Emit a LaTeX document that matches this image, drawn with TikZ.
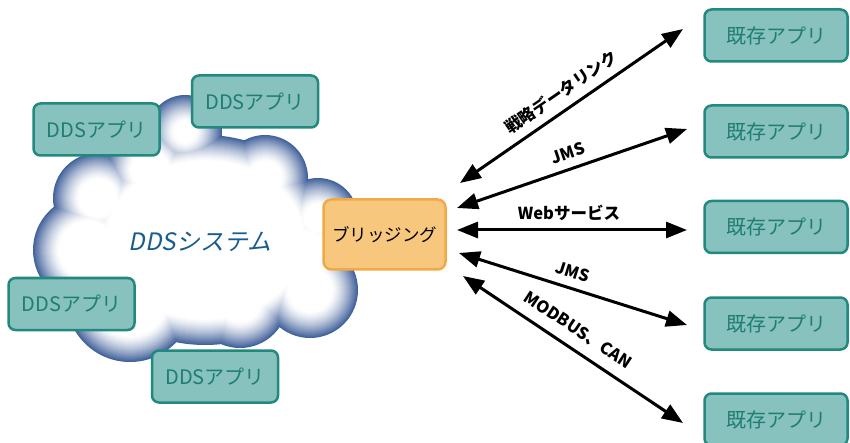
\documentclass[tikz,border=0pt]{standalone}
\usepackage{fontspec}
\usetikzlibrary{arrows.meta}
\newfontfamily\cjk{Noto Sans CJK JP}
\newfontfamily\cjkit{Noto Sans CJK JP}[FakeSlant=0.2]
\definecolor{tealfill}{HTML}{88C2BE}
\definecolor{tealborder}{HTML}{22897F}
\definecolor{tealtext}{HTML}{1F7D74}
\definecolor{bridgefill}{HTML}{F8C77E}
\definecolor{bridgeborder}{HTML}{F2A945}
\definecolor{cloudblue}{HTML}{42629C}
\definecolor{ddstext}{HTML}{1A5C8E}
\tikzset{
  appbox/.style={rounded corners=7pt, draw=tealborder, fill=tealfill, line width=2.5pt,
    text=tealtext, inner sep=0pt},
  ddsapp/.style={appbox, minimum width=126pt, minimum height=52pt, font=\cjk\fontsize{20}{24}\selectfont},
  oldapp/.style={appbox, minimum width=143pt, minimum height=52pt, font=\cjk\fontsize{20}{24}\selectfont},
  bridgebox/.style={rounded corners=8pt, draw=bridgeborder, fill=bridgefill, line width=2.5pt,
    minimum width=122pt, minimum height=70pt, inner sep=0pt, font=\cjk\fontsize{17.5}{20}\selectfont},
  link/.style={line width=3pt, {Triangle[length=21pt,width=16pt]}-{Triangle[length=21pt,width=16pt]}},
  lbl/.style={font=\cjk\bfseries\fontsize{16.5}{19}\selectfont, inner sep=0pt}
}
\begin{document}
\begin{tikzpicture}[x=1pt,y=-1pt]
\useasboundingbox (0,0) rectangle (850,443);
% cloud with inner glow
\foreach \t in {0,...,26}{
  \pgfmathsetmacro\pc{100*(1-\t/26)^1.4}
  \fill[cloudblue!\pc!white]
    \foreach \cx/\cy/\r in {185/132/37, 265/178/43, 318/218/40, 305/255/50, 310/290/48,
                            240/300/48, 130/298/64, 88/250/55, 98/198/45, 150/170/45}{
      (\cx,\cy) circle[radius=\r-\t]
    }
    (205,240) ellipse[x radius=125-\t, y radius=105-\t];
}
\node[font=\cjkit\fontsize{24}{28}\selectfont, text=ddstext] (sys) at (200,242) {DDSシステム};
% DDS apps
\node[ddsapp] (dA) at (96.5,129.5) {DDSアプリ};
\node[ddsapp] (dB) at (255,101.5) {DDSアプリ};
\node[ddsapp] (dC) at (71.5,304) {DDSアプリ};
\node[ddsapp] (dD) at (215,376.5) {DDSアプリ};
% bridge
\node[bridgebox] (br) at (384.5,234.5) {ブリッジング};
% existing apps
\node[oldapp] (e1) at (776,35.5) {既存アプリ};
\node[oldapp] (e2) at (776,131.5) {既存アプリ};
\node[oldapp] (e3) at (776,227) {既存アプリ};
\node[oldapp] (e4) at (776,323.5) {既存アプリ};
\node[oldapp] (e5) at (776,419.5) {既存アプリ};
% link end points
\coordinate (l1) at (460,183); \coordinate (r1) at (683,29);
\coordinate (l2) at (457,208); \coordinate (r2) at (687,129);
\coordinate (l3) at (457,230); \coordinate (r3) at (687,230);
\coordinate (l4) at (459,253); \coordinate (r4) at (687,325);
\coordinate (l5) at (463,276); \coordinate (r5) at (683,423);
\draw[link] (l1) -- (r1);
\draw[link] (l2) -- (r2);
\draw[link] (l3) -- (r3);
\draw[link] (l4) -- (r4);
\draw[link] (l5) -- (r5);
% labels
\node[lbl, rotate=34.6] (t1) at (561,92) {戦略データリンク};
\node[lbl, rotate=19] (t2) at (568,153) {JMS};
\node[lbl] (t3) at (569,213) {Webサービス};
\node[lbl, rotate=-17.5] (t4) at (573,272) {JMS};
\node[lbl, rotate=-33.7] (t5) at (578,330) {MODBUS、CAN};
\end{tikzpicture}
\end{document}
